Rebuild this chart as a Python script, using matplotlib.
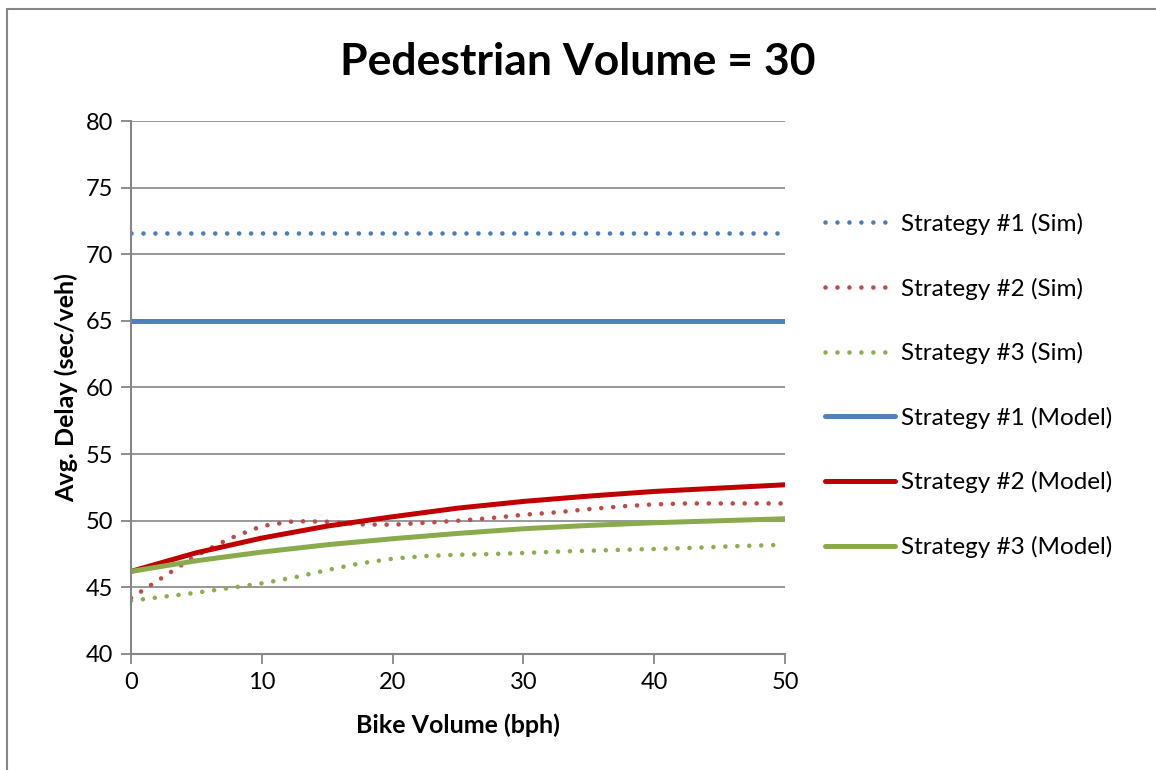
import matplotlib.pyplot as plt
from matplotlib.patches import Rectangle

# values
bike_sim = [0, 2.5, 5, 7.5, 10, 12.5, 15, 17.5, 20, 22.5, 25,
            27.5, 30, 32.5, 35, 37.5, 40, 42.5, 45, 47.5, 50]
s1_sim = [71.6] * len(bike_sim)
s2_sim = [44.2, 45.8, 47.4, 48.65, 49.6, 49.97, 49.93, 49.73, 49.7, 49.85, 50.0,
          50.2, 50.45, 50.63, 50.87, 51.08, 51.23, 51.3, 51.3, 51.3, 51.3]
s3_sim = [44.0, 44.3, 44.6, 44.95, 45.3, 45.75, 46.3, 46.8, 47.15, 47.35, 47.45,
          47.5, 47.58, 47.68, 47.75, 47.82, 47.88, 47.95, 48.05, 48.13, 48.2]

bike_model = [0, 5, 10, 15, 20, 25, 30, 35, 40, 45, 50]
s1_model = [65.0] * len(bike_model)
s2_model = [46.2, 47.6, 48.7, 49.6, 50.3, 50.95, 51.45, 51.85, 52.2, 52.45, 52.7]
s3_model = [46.2, 47.0, 47.65, 48.2, 48.65, 49.05, 49.4, 49.65, 49.85, 50.0, 50.15]

plt.rcParams['font.family'] = ['Lato', 'DejaVu Sans']

fig = plt.figure(figsize=(11.56, 7.7), dpi=100)
ax = fig.add_axes([131/1156, 1-654/770, (785-131)/1156, (654-121)/770])

# chart area border (runs off the right and bottom edges)
fig.patches.append(Rectangle((7/1156, -0.05), 1.1, 1 - 9/770 + 0.05, transform=fig.transFigure,
                             fill=False, edgecolor='#868686', lw=1.5))

dots = (0, (0.01, 2.6))
ax.plot(bike_sim, s1_sim, color='#4A7EBB', lw=3.3, linestyle=dots, dash_capstyle='round', label='Strategy #1 (Sim)')
ax.plot(bike_sim, s2_sim, color='#BE4B48', lw=3.3, linestyle=dots, dash_capstyle='round', label='Strategy #2 (Sim)')
ax.plot(bike_sim, s3_sim, color='#8DAE4F', lw=3.3, linestyle=dots, dash_capstyle='round', label='Strategy #3 (Sim)')
ax.plot(bike_model, s1_model, color='#4F81BD', lw=3.6, solid_capstyle='round', label='Strategy #1 (Model)')
ax.plot(bike_model, s2_model, color='#C00000', lw=3.6, solid_capstyle='round', label='Strategy #2 (Model)')
ax.plot(bike_model, s3_model, color='#8AAB4C', lw=3.6, solid_capstyle='round', label='Strategy #3 (Model)')

ax.set_xlim(0, 50)
ax.set_ylim(40, 80)
ax.set_xticks(range(0, 51, 10))
ax.set_yticks(range(40, 81, 5))
ax.yaxis.grid(True, color='#868686', lw=1.2)
ax.set_axisbelow(True)
for side in ['top', 'right']:
    ax.spines[side].set_visible(False)
for side in ['left', 'bottom']:
    ax.spines[side].set_color('#868686')
    ax.spines[side].set_linewidth(1.5)
ax.tick_params(colors='#868686', labelcolor='black', labelsize=17, length=7, width=1.3, pad=6)

fig.text(0.5, 1 - 62/770, 'Pedestrian Volume = 30', fontsize=32, fontweight='bold',
         ha='center', va='center')
ax.set_xlabel('Bike Volume (bph)', fontsize=18, fontweight='bold', labelpad=15)
ax.set_ylabel('Avg. Delay (sec/veh)', fontsize=18, fontweight='bold', labelpad=5)

ax.legend(loc='upper left', bbox_to_anchor=(1.046, 0.846), frameon=False, fontsize=17.5,
          labelspacing=1.75, handlelength=2.9, handletextpad=0.25, borderaxespad=0)

fig.savefig('out.png', dpi=100)
